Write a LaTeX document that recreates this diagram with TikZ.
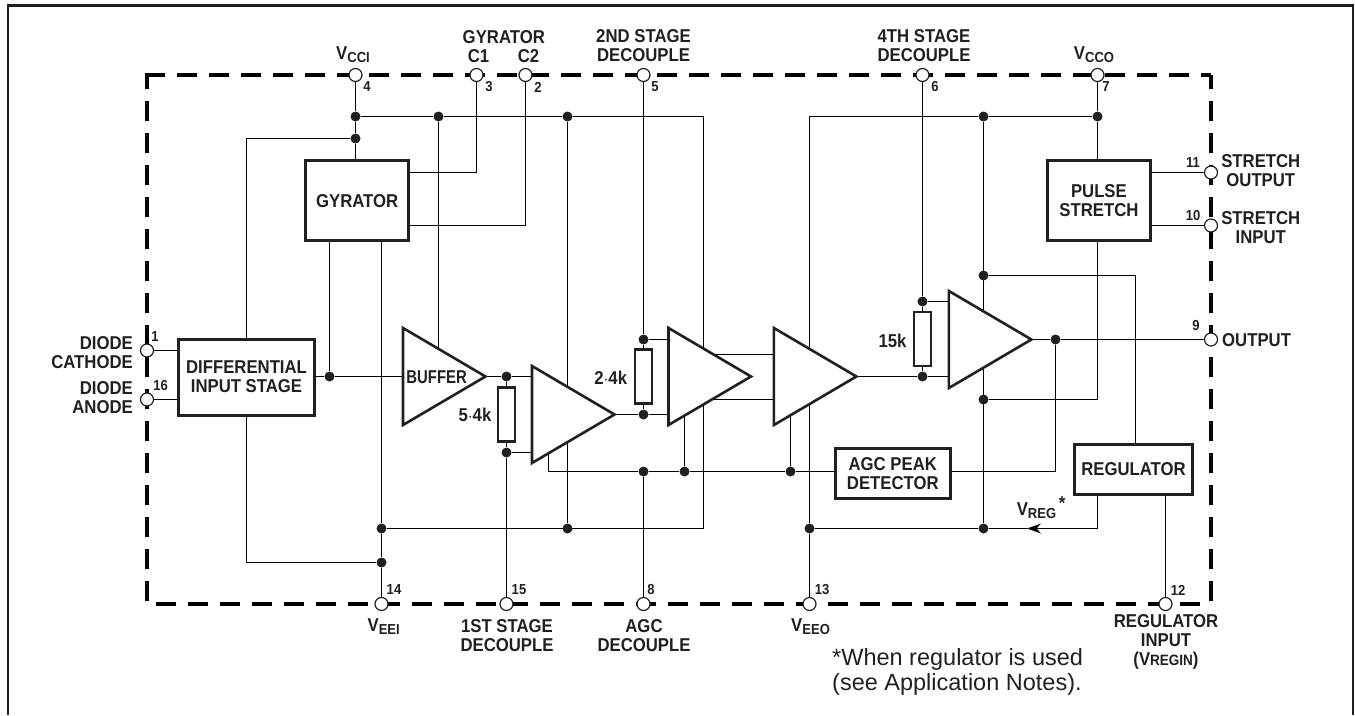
\documentclass[tikz,border=0pt]{standalone}
\usepackage{fontspec}
\setmainfont{Liberation Sans}[FakeStretch=0.9]
\newfontfamily\notefont{Liberation Sans}
\usetikzlibrary{shapes.geometric,arrows.meta,backgrounds}
\definecolor{ink}{HTML}{231F20}
\newcommand{\subV}[1]{V\raisebox{-3pt}{\fontsize{14.5}{15}\selectfont #1}}
\begin{document}
\begin{tikzpicture}[x=1pt, y=-1pt, ink, text=ink,
  wire/.style = {line width=1.4pt},
  chipedge/.style = {line width=4.5pt, dash pattern=on 20pt off 12pt},
  block/.style = {shape=rectangle, draw, line width=3pt, inner sep=0pt, outer sep=0pt, align=center,
    font=\fontsize{18.6}{19}\selectfont\bfseries},
  resistor/.style = {shape=rectangle, draw, line width=2.6pt, fill=white, inner sep=0pt, outer sep=0pt,
    minimum width=17pt, minimum height=54pt},
  stage/.style = {shape=isosceles triangle, isosceles triangle stretches, draw, fill=white,
    line width=2.6pt, inner sep=0pt, outer sep=0pt, minimum width=97pt, minimum height=82.5pt, anchor=apex},
  pin/.style = {shape=circle, draw, fill=white, line width=1.2pt, inner sep=0pt, minimum size=13pt},
  dot/.style = {shape=circle, fill, inner sep=0pt, minimum size=10pt},
  tag/.style = {align=center, inner sep=0pt,
    font=\fontsize{18.6}{19}\selectfont\bfseries},
  pinno/.style = {inner sep=0pt, font=\fontsize{14.5}{15}\selectfont\bfseries}]
  \useasboundingbox (0,0) rectangle (1355,715);
  \draw[line width=2.6pt] (8,715) -- (8,5.5) -- (1353,5.5) -- (1353,715);

  \coordinate (chipTL) at (147,75);
  \coordinate (chipTR) at (1211,75);
  \coordinate (chipBL) at (147,604);
  \coordinate (chipBR) at (1211,604);

  \node[pin] (p1) at (chipTL |- 0,350.5) {};
  \node[pin] (p16) at (chipTL |- 0,399.5) {};
  \node[pin] (p4) at (355.5,75) {};
  \node[pin] (p3) at (476.5,75) {};
  \node[pin] (p2) at (525.5,75) {};
  \node[pin] (p5) at (643.5,75) {};
  \node[pin] (p6) at (922.5,75) {};
  \node[pin] (p7) at (1097.5,75) {};
  \node[pin] (p11) at (1211,172.5) {};
  \node[pin] (p10) at (1211,225.5) {};
  \node[pin] (p9) at (1211,339.5) {};
  \node[pin] (p14) at (381.5,604) {};
  \node[pin] (p15) at (506.5,604) {};
  \node[pin] (p8) at (643.5,604) {};
  \node[pin] (p13) at (809.5,604) {};
  \node[pin] (p12) at (1165.5,604) {};

  \node[block, minimum width=102.5pt, minimum height=79.7pt] (gyrator) at (357.2,200.8) {GYRATOR};
  \node[block, minimum width=136.3pt, minimum height=76pt] (diff) at (246.5,377) {DIFFERENTIAL\\INPUT STAGE};
  \node[block, minimum width=102.3pt, minimum height=79.7pt] (pulse) at (1098.9,200.8) {PULSE\\STRETCH};
  \node[block, minimum width=114.4pt, minimum height=50pt] (agc) at (892.8,473.3) {AGC PEAK\\DETECTOR};
  \node[block, minimum width=117.6pt, minimum height=50.3pt] (regulator) at (1133.5,469.2) {REGULATOR};

  \node[stage] (buffer) at (485.5,376.5) {};
  \node[stage] (stageOne) at (614.5,414.5) {};
  \node[stage] (stageTwo) at (751,376.5) {};
  \node[stage] (stageThree) at (856.4,376.5) {};
  \node[stage] (stageFour) at (1031.4,339.5) {};
  \node[tag] (bufferText) at (436.6,377) {\scalebox{0.89}[1]{BUFFER}};

  \node[resistor] (res5) at (506.5,414.4) {};
  \node[resistor] (res2) at (643.5,376.3) {};
  \node[resistor] (res15) at (922.5,338.8) {};

  \node[dot] (vcciA) at (355.5,116.5) {};
  \node[dot] (vcciB) at (355.5,138.5) {};
  \node[dot] (bufV) at (438.5,116.5) {};
  \node[dot] (railA) at (567.5,116.5) {};
  \node[dot] (railB) at (983.5,116.5) {};
  \node[dot] (vccoA) at (1097.5,116.5) {};
  \node[dot] (veeA) at (381.5,528.5) {};
  \node[dot] (veeB) at (381.5,562.5) {};
  \node[dot] (railD) at (567.5,528.5) {};
  \node[dot] (veoA) at (809.5,528.5) {};
  \node[dot] (veoB) at (983.5,528.5) {};
  \node[dot] (diffOut) at (329.5,376.5) {};
  \node[dot] (d1a) at (506.5,376.5) {};
  \node[dot] (d1b) at (506.5,452.5) {};
  \node[dot] (d2a) at (643.5,339.5) {};
  \node[dot] (d2b) at (643.5,414.5) {};
  \node[dot] (d4a) at (922.5,301.5) {};
  \node[dot] (d4b) at (922.5,376.5) {};
  \node[dot] (agcA) at (643.5,471.5) {};
  \node[dot] (agcB) at (684.5,471.5) {};
  \node[dot] (agcC) at (790.5,471.5) {};
  \node[dot] (outA) at (1055.5,339.5) {};
  \node[dot] (regA) at (983.5,275.5) {};
  \node[dot] (stA) at (983.5,399.5) {};

  \coordinate (railE) at (703.5,116.5);
  \coordinate (railF) at (703.5,528.5);
  \coordinate (railC) at (809.5,116.5);
  \coordinate (agcL) at (548.5,471.5);
  \coordinate (linkA) at (700,354.5);
  \coordinate (linkB) at (700,399.5);
  \coordinate (regTip) at (1027,528.5);

  \begin{scope}[on background layer]
    \draw[chipedge] ([xshift=-2.2pt]chipTL) -- (chipTR);
    \draw[chipedge, dash phase=6pt] (chipTL) -- (chipBL);
    \draw[chipedge, dash phase=6pt] (chipTR) -- (chipBR);
    \draw[chipedge, dash phase=23pt] (chipBL) -- (chipBR);

    \draw[wire] (p4) -- (vcciA) -- (vcciB) -- (vcciB |- gyrator.north);
    \draw[wire] (vcciA) -- (bufV) -- (railA) -- (railE) -- (railF) -- (veeA);
    \draw[wire] (vcciB) -| (diff.north);
    \draw[wire] (gyrator.east |- p11) -| (p3);
    \draw[wire] (gyrator.east |- p10) -| (p2);
    \draw[wire] (gyrator.south -| diffOut) -- (diffOut);
    \draw[wire] (gyrator.south -| p14) -- (veeA) -- (veeB) -- (p14);
    \draw[wire] (p1) -- (p1 -| diff.west);
    \draw[wire] (p16) -- (p16 -| diff.west);
    \draw[wire] (diff.south) |- (veeB);
    \draw[wire] (diff.east |- diffOut) -- (diffOut) -- (diffOut -| buffer.left corner);
    \draw[wire] (bufV) -- (bufV |- buffer.apex);
    \draw[wire] (railA) -- (railD);
    \draw[wire] (buffer.apex) -- (d1a) -- (d1a -| stageOne.left corner);
    \draw[wire] (d1a) -- (res5.north);
    \draw[wire] (res5.south) -- (d1b) -- (p15);
    \draw[wire] (d1b) -- (d1b -| stageOne.left corner);
    \draw[wire] (stageOne.apex) -- (d2b) -- (d2b -| stageTwo.left corner);
    \draw[wire] (d2b) -- (res2.south);
    \draw[wire] (res2.north) -- (d2a) -- (p5);
    \draw[wire] (d2a) -- (d2a -| stageTwo.left corner);
    \draw[wire] (agcL |- stageOne.apex) -- (agcL) -- (agcA) -- (agcB) -- (agcC) -- (agc.west |- agcC);
    \draw[wire] (agcA) -- (p8);
    \draw[wire] (agcB) -- (agcB |- stageTwo.apex);
    \draw[wire] (agcC) -- (agcC |- stageThree.apex);
    \draw[wire] (linkA) -- (linkA -| stageThree.left corner);
    \draw[wire] (linkB) -- (linkB -| stageThree.left corner);
    \draw[wire] (stageThree.apex) -- (d4b) -- (d4b -| stageFour.left corner);
    \draw[wire] (d4b) -- (res15.south);
    \draw[wire] (res15.north) -- (d4a) -- (p6);
    \draw[wire] (d4a) -- (d4a -| stageFour.left corner);
    \draw[wire] (stageFour.apex) -- (outA) -- (p9);
    \draw[wire] (outA) |- (agc.east |- agcC);
    \draw[wire] (p13) -- (veoA) -- (railC) -- (railB) -- (vccoA);
    \draw[wire] (p7) -- (vccoA) -- (pulse.north -| vccoA);
    \draw[wire] (railB) -- (veoB);
    \draw[wire] (pulse.south -| vccoA) |- (stA);
    \draw[wire] (regA) -| ([xshift=2pt]regulator.north);
    \draw[wire, -{Stealth[length=14pt,width=10pt]}] (regulator.south -| vccoA) |- (regTip);
    \draw[wire] (regTip) -- (veoB) -- (veoA);
    \draw[wire] (regulator.south -| p12) -- (p12);
    \draw[wire] (p11) -- (p11 -| pulse.east);
    \draw[wire] (p10) -- (p10 -| pulse.east);
  \end{scope}

  \node[tag] (vcciText) at (353,55) {\subV{CCI}};
  \node[tag] (gyrText) at (503.8,36.7) {GYRATOR};
  \node[tag] (c1Text) at (478.6,55.7) {C1};
  \node[tag] (c2Text) at (528.6,55.7) {C2};
  \node[tag] (secondText) at (643.5,46) {2ND STAGE\\DECOUPLE};
  \node[tag] (fourthText) at (924,46) {4TH STAGE\\DECOUPLE};
  \node[tag] (vccoText) at (1094,55) {\subV{CCO}};
  \node[tag, align=right, anchor=east] (cathodeText) at (133,352.5) {DIODE\\CATHODE};
  \node[tag, align=right, anchor=east] (anodeText) at (133,397.7) {DIODE\\ANODE};
  \node[tag] (strOutText) at (1260.8,171) {STRETCH\\OUTPUT};
  \node[tag] (strInText) at (1260.8,227.5) {STRETCH\\INPUT};
  \node[tag, anchor=west] (outText) at (1222,340) {OUTPUT};
  \node[tag] (veeiText) at (383.7,627) {\subV{EEI}};
  \node[tag] (firstText) at (507,636) {1ST STAGE\\DECOUPLE};
  \node[tag] (agcText) at (644,636) {AGC\\DECOUPLE};
  \node[tag] (veeoText) at (810.6,627) {\subV{EEO}};
  \node[tag] (regInText) at (1166,642) {REGULATOR\\INPUT\\(V{\fontsize{15}{15}\selectfont REGIN})};
  \node[tag] (vregText) at (1036.5,511) {\subV{REG}};
  \node[tag] (vregStar) at (1062,503) {*};
  \node[tag] (res5Text) at (475,415) {5$\cdot$4k};
  \node[tag] (res2Text) at (610.7,377.7) {2$\cdot$4k};
  \node[tag] (res15Text) at (892.5,340.7) {15k};
  \node[inner sep=0pt, align=left, anchor=west, font=\notefont\fontsize{23.5}{25.7}\selectfont] (noteText) at (832,672) {*When regulator is used\\(see Application Notes).};

  \node[pinno] (no1) at (155,337) {1};
  \node[pinno] (no16) at (160.7,385.7) {16};
  \node[pinno] (no4) at (367,87) {4};
  \node[pinno] (no3) at (489,87) {3};
  \node[pinno] (no2) at (538,87) {2};
  \node[pinno] (no5) at (655,87) {5};
  \node[pinno] (no6) at (935,87) {6};
  \node[pinno] (no7) at (1106,87) {7};
  \node[pinno] (no11) at (1193,162.7) {11};
  \node[pinno] (no10) at (1193,216) {10};
  \node[pinno] (no9) at (1196,325.7) {9};
  \node[pinno] (no14) at (394,590) {14};
  \node[pinno] (no15) at (519,590) {15};
  \node[pinno] (no8) at (651,590) {8};
  \node[pinno] (no13) at (822,590) {13};
  \node[pinno] (no12) at (1178,590) {12};
\end{tikzpicture}
\end{document}
